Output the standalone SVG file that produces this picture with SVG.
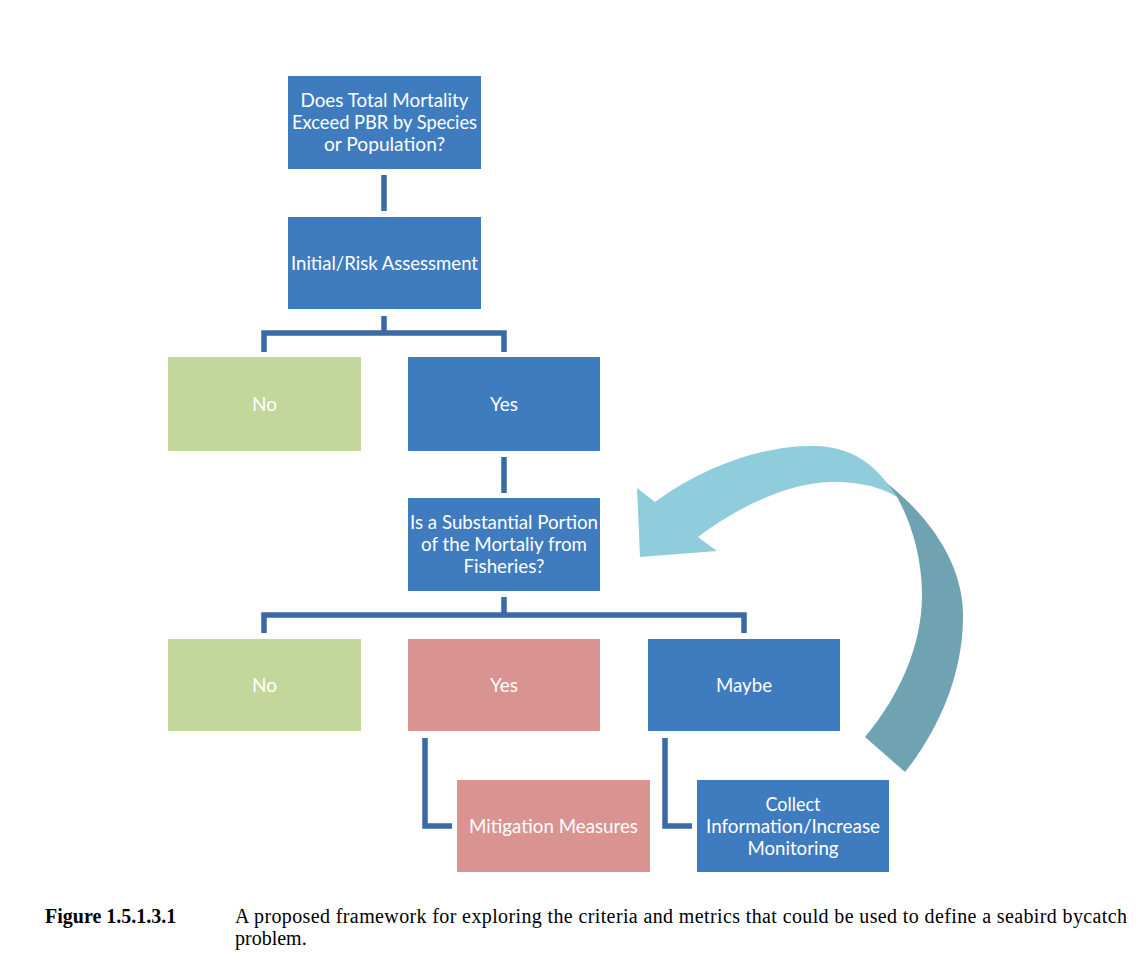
<svg xmlns="http://www.w3.org/2000/svg" width="1147" height="962" viewBox="0 0 1147 962">
<style>
.blue{fill:#3F7CBF}
.green{fill:#C3D69B}
.pink{fill:#D99492}
.lbl{font-family:Lato,"Liberation Sans",Arial,sans-serif;font-size:19px;fill:#FFFFFF;text-anchor:middle}
.conn{fill:none;stroke:#3A6BA6;stroke-width:5.5}
.cap{font-family:"Liberation Serif","Times New Roman",serif;font-size:20px;fill:#000000}
</style>
<rect width="1147" height="962" fill="#FFFFFF"/>
<g id="connectors">
<path class="conn" d="M384 175 V211"/>
<path class="conn" d="M384 316 V333"/>
<path class="conn" d="M264 352 V333 H504 V352"/>
<path class="conn" d="M504 457 V493"/>
<path class="conn" d="M504 597 V615"/>
<path class="conn" d="M264 633 V615 H744 V633"/>
<path class="conn" d="M425 738 V826 H452"/>
<path class="conn" d="M665 738 V826 H692"/>
</g>
<g id="loop-arrow">
<path fill="#70A3B1" d="M883 480 C935 520 965 570 963 620 C962 680 935 735 905 772 L865 737 C900 695 922 645 922 595 C922 555 910 520 897 497 Z"/>
<path fill="#8FCDDC" d="M655 502 C710 462 770 445 815 446 C850 447 875 462 897 497 C880 486 855 481 830 482 C790 483 740 505 698 537 L717 551 L640 557 L637 488 Z"/>
</g>
<g id="n-total">
<rect class="blue" x="288" y="76" width="193" height="93"/>
<text class="lbl" x="384.5" y="106.5" textLength="168" lengthAdjust="spacingAndGlyphs">Does Total Mortality</text>
<text class="lbl" x="384.5" y="128.5" textLength="185" lengthAdjust="spacingAndGlyphs">Exceed PBR by Species</text>
<text class="lbl" x="384.5" y="150.5" textLength="121" lengthAdjust="spacingAndGlyphs">or Population?</text>
</g>
<g id="n-initial">
<rect class="blue" x="288" y="217" width="193" height="92"/>
<text class="lbl" x="384.5" y="269.5" textLength="187" lengthAdjust="spacingAndGlyphs">Initial/Risk Assessment</text>
</g>
<g id="n-no1">
<rect class="green" x="168" y="357" width="193" height="94"/>
<text class="lbl" x="264.5" y="410.5">No</text>
</g>
<g id="n-yes1">
<rect class="blue" x="408" y="357" width="192" height="94"/>
<text class="lbl" x="504" y="410.5">Yes</text>
</g>
<g id="n-question">
<rect class="blue" x="408" y="498" width="192" height="93"/>
<text class="lbl" x="504" y="528.5" textLength="188" lengthAdjust="spacingAndGlyphs">Is a Substantial Portion</text>
<text class="lbl" x="504" y="550.5" textLength="166" lengthAdjust="spacingAndGlyphs">of the Mortaliy from</text>
<text class="lbl" x="504" y="572.5" textLength="81" lengthAdjust="spacingAndGlyphs">Fisheries?</text>
</g>
<g id="n-no2">
<rect class="green" x="168" y="639" width="193" height="92"/>
<text class="lbl" x="264.5" y="691.5">No</text>
</g>
<g id="n-yes2">
<rect class="pink" x="408" y="639" width="192" height="92"/>
<text class="lbl" x="504" y="691.5">Yes</text>
</g>
<g id="n-maybe">
<rect class="blue" x="648" y="639" width="192" height="92"/>
<text class="lbl" x="744" y="691.5" textLength="56" lengthAdjust="spacingAndGlyphs">Maybe</text>
</g>
<g id="n-mitigation">
<rect class="pink" x="457" y="780" width="193" height="92"/>
<text class="lbl" x="553.5" y="832.5" textLength="169" lengthAdjust="spacingAndGlyphs">Mitigation Measures</text>
</g>
<g id="n-collect">
<rect class="blue" x="697" y="780" width="192" height="92"/>
<text class="lbl" x="793" y="810.5" textLength="55" lengthAdjust="spacingAndGlyphs">Collect</text>
<text class="lbl" x="793" y="832.5" textLength="174" lengthAdjust="spacingAndGlyphs">Information/Increase</text>
<text class="lbl" x="793" y="854.5" textLength="91" lengthAdjust="spacingAndGlyphs">Monitoring</text>
</g>
<g id="caption">
<text class="cap" x="45" y="923" font-weight="bold">Figure 1.5.1.3.1</text>
<text class="cap" x="235" y="923" textLength="892" lengthAdjust="spacing">A proposed framework for exploring the criteria and metrics that could be used to define a seabird bycatch</text>
<text class="cap" x="235" y="945">problem.</text>
</g>
</svg>
